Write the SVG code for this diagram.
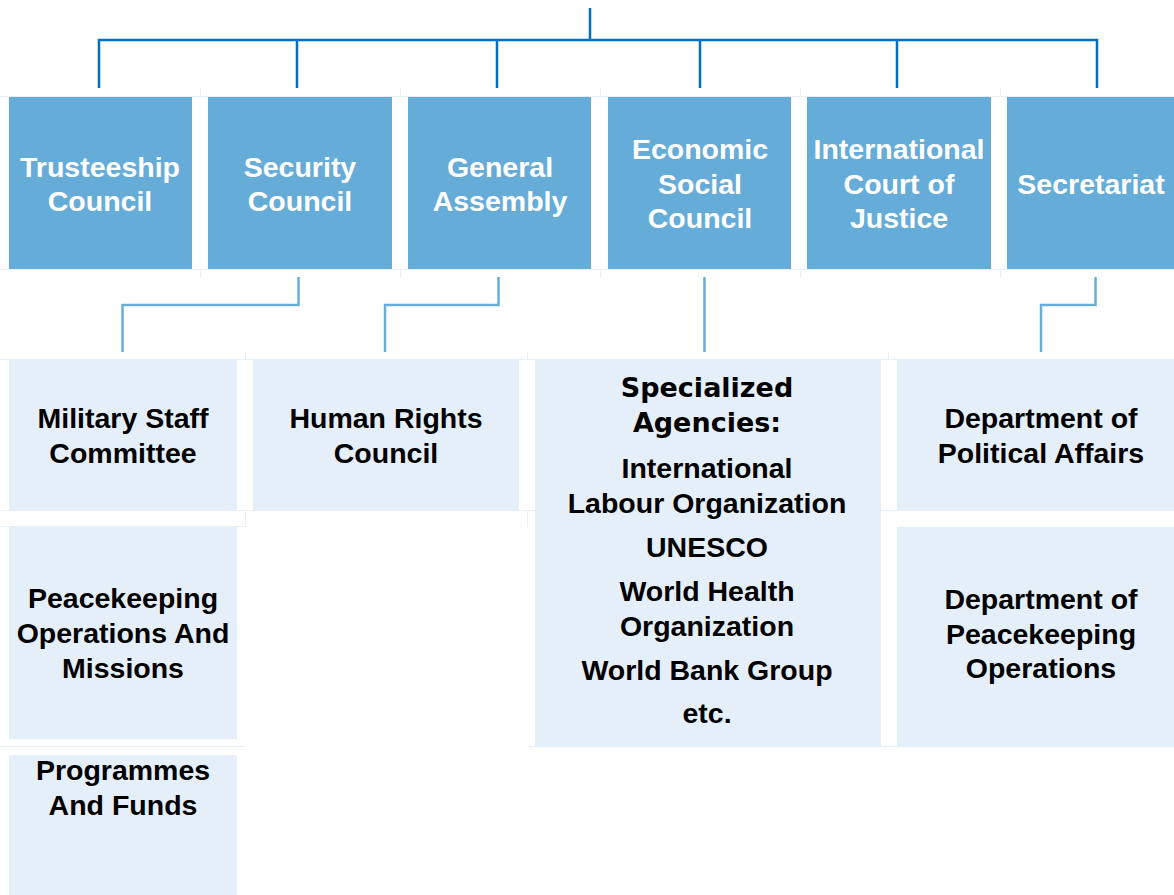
<svg xmlns="http://www.w3.org/2000/svg" width="1174" height="895" viewBox="0 0 1174 895">
<style>
.top{fill:#66acd8}
.sub{fill:#e5eff9}
.grid{stroke:#e8f0f7;stroke-width:1;fill:none}
.c1{stroke:#0070c0;stroke-width:2.5;fill:none}
.c2{stroke:#6aaed8;stroke-width:2.5;fill:none}
.tw{font-family:"Liberation Sans",Arial,sans-serif;font-weight:bold;font-size:28.5px;fill:#ffffff;text-anchor:middle}
.tb{font-family:"Liberation Sans",Arial,sans-serif;font-weight:bold;font-size:28.5px;fill:#000000;text-anchor:middle}
.th{font-family:"DejaVu Sans",sans-serif;font-weight:bold;font-size:27px;fill:#000000;text-anchor:middle}
</style>
<rect width="1174" height="895" fill="#ffffff"/>
<g id="gridlines">
<path class="grid" d="M0 96.5H1174M0 269.5H1174M200.5 88V97M400.5 88V97M600.5 88V97M800.5 88V97M1000.5 88V97M200.5 269V278M400.5 269V278M600.5 269V278M800.5 269V278M1000.5 269V278"/>
<path class="grid" d="M0 359.5H1174M0 510.5H1174M0 526.5H245M0 746.5H245M527 746.5H1174M245.5 352V360M527.5 352V360M888.5 352V360M245.5 510V527M527.5 510V527"/>
</g>
<g id="connectors">
<path class="c1" d="M590 8V40M99 88V40H1097V88M297 40V88M497 40V88M700 40V88M897 40V88"/>
<path class="c2" d="M298.5 277V305H122.5V352"/>
<path class="c2" d="M498.5 277V305H385V352"/>
<path class="c2" d="M704.5 277V352"/>
<path class="c2" d="M1095.5 277V305H1041V352"/>
</g>
<g id="trusteeship">
<rect class="top" x="9" y="97" width="183" height="172"/>
<text class="tw" x="100" y="177">Trusteeship</text>
<text class="tw" x="100" y="211">Council</text>
</g>
<g id="security">
<rect class="top" x="208" y="97" width="184" height="172"/>
<text class="tw" x="300" y="177">Security</text>
<text class="tw" x="300" y="211">Council</text>
</g>
<g id="general-assembly">
<rect class="top" x="408" y="97" width="183" height="172"/>
<text class="tw" x="500" y="177">General</text>
<text class="tw" x="500" y="211">Assembly</text>
</g>
<g id="ecosoc">
<rect class="top" x="608" y="97" width="183" height="172"/>
<text class="tw" x="700" y="159">Economic</text>
<text class="tw" x="700" y="194">Social</text>
<text class="tw" x="700" y="228">Council</text>
</g>
<g id="icj">
<rect class="top" x="807" y="97" width="184" height="172"/>
<text class="tw" x="899" y="159">International</text>
<text class="tw" x="899" y="194">Court of</text>
<text class="tw" x="899" y="228">Justice</text>
</g>
<g id="secretariat">
<rect class="top" x="1007" y="97" width="184" height="172"/>
<text class="tw" x="1091" y="194">Secretariat</text>
</g>
<g id="military-staff">
<rect class="sub" x="9" y="360" width="228" height="150"/>
<text class="tb" x="123" y="428">Military Staff</text>
<text class="tb" x="123" y="463">Committee</text>
</g>
<g id="peacekeeping-ops">
<rect class="sub" x="9" y="527" width="228" height="212"/>
<text class="tb" x="123" y="608">Peacekeeping</text>
<text class="tb" x="123" y="643">Operations And</text>
<text class="tb" x="123" y="678">Missions</text>
</g>
<g id="programmes">
<rect class="sub" x="9" y="755" width="228" height="140"/>
<text class="tb" x="123" y="780">Programmes</text>
<text class="tb" x="123" y="815">And Funds</text>
</g>
<g id="human-rights">
<rect class="sub" x="253" y="360" width="266" height="150"/>
<text class="tb" x="386" y="428">Human Rights</text>
<text class="tb" x="386" y="463">Council</text>
</g>
<g id="specialized">
<rect class="sub" x="535" y="360" width="346" height="387"/>
<text class="th" x="707" y="397">Specialized</text>
<text class="th" x="707" y="432">Agencies:</text>
<text class="tb" x="707" y="478">International</text>
<text class="tb" x="707" y="513">Labour Organization</text>
<text class="tb" x="707" y="557">UNESCO</text>
<text class="tb" x="707" y="601">World Health</text>
<text class="tb" x="707" y="636">Organization</text>
<text class="tb" x="707" y="680">World Bank Group</text>
<text class="tb" x="707" y="723">etc.</text>
</g>
<g id="political-affairs">
<rect class="sub" x="897" y="360" width="277" height="150"/>
<text class="tb" x="1041" y="428">Department of</text>
<text class="tb" x="1041" y="463">Political Affairs</text>
</g>
<g id="dpko">
<rect class="sub" x="897" y="527" width="277" height="220"/>
<text class="tb" x="1041" y="609">Department of</text>
<text class="tb" x="1041" y="644">Peacekeeping</text>
<text class="tb" x="1041" y="678">Operations</text>
</g>
</svg>
